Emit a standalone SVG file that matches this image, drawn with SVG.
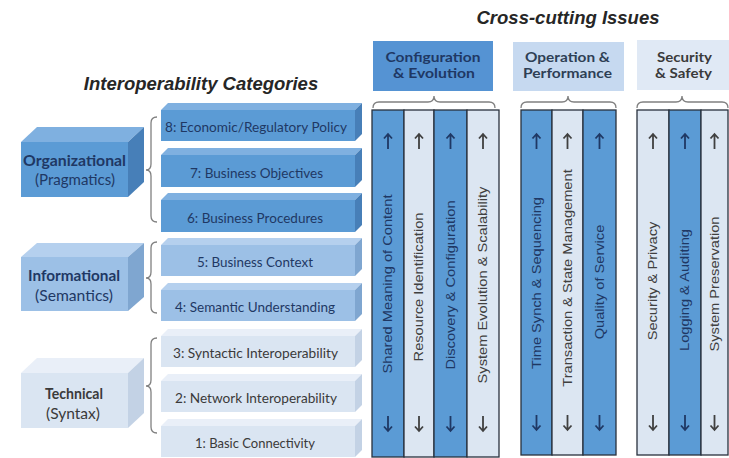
<svg xmlns="http://www.w3.org/2000/svg" width="729" height="458" viewBox="0 0 729 458">
<style>
.title{font-family:"Liberation Sans",Arial,sans-serif;font-weight:bold;font-style:italic;font-size:18.5px;fill:#262626;text-anchor:middle}
.hd{font-family:Lato,"Liberation Sans",sans-serif;font-weight:bold;font-size:14px;text-anchor:middle}
.lt{font-family:Lato,"Liberation Sans",sans-serif;font-size:13.5px;text-anchor:middle;dominant-baseline:central}
.cat{font-family:Lato,"Liberation Sans",sans-serif;font-size:15px;text-anchor:middle;dominant-baseline:central}
.cat.b{font-weight:bold}
.ct{font-family:"Liberation Sans",Arial,sans-serif;font-size:12px;text-anchor:middle;dominant-baseline:central}
.dk .f{fill:#5b9bd5}.dk .t{fill:#7fb0e0}.dk .s{fill:#477fb8}
.md .f{fill:#9cc0e6}.md .t{fill:#b5d0ee}.md .s{fill:#7fa6d0}
.lg .f{fill:#dae5f2}.lg .t{fill:#e9eff8}.lg .s{fill:#c3d2e5}
.dk text{fill:#1f3864}.md text{fill:#1f3864}.lg text{fill:#3a3a3a}
.brace{fill:none;stroke:#808080;stroke-width:1.3}
.col{stroke:#28313d;stroke-width:1.3}
.cd{fill:#5b9bd5}.cl{fill:#dce6f2}
.tdk{fill:#1f3864}.tlt{fill:#404040}
.adk{stroke:#1f3864}.alt{stroke:#404040}
.arr{fill:none;stroke-width:1.8}
</style>
<defs>
<path id="up" d="M0,8 V-7 M-4,-2.5 L0,-7 L4,-2.5"/>
<path id="dn" d="M0,-8 V7 M-4,2.5 L0,7 L4,2.5"/>
</defs>
<rect width="729" height="458" fill="#ffffff"/>

<text class="title" x="568" y="24">Cross-cutting Issues</text>
<text class="title" x="201" y="90">Interoperability Categories</text>

<!-- Category blocks -->
<g id="cat-organizational" class="dk">
<polygon class="t" points="21,142 37,127 144,127 128,142"/>
<polygon class="s" points="128,142 144,127 144,182 128,197"/>
<rect class="f" x="21" y="142" width="107" height="55"/>
<text class="cat b" x="74.5" y="160" textLength="103" lengthAdjust="spacingAndGlyphs">Organizational</text>
<text class="cat" x="75" y="179" textLength="80" lengthAdjust="spacingAndGlyphs">(Pragmatics)</text>
</g>
<g id="cat-informational" class="md">
<polygon class="t" points="21,257 37,243 144,243 128,257"/>
<polygon class="s" points="128,257 144,243 144,297 128,311"/>
<rect class="f" x="21" y="257" width="107" height="54"/>
<text class="cat b" x="74" y="275" textLength="92" lengthAdjust="spacingAndGlyphs">Informational</text>
<text class="cat" x="74" y="295" textLength="78" lengthAdjust="spacingAndGlyphs">(Semantics)</text>
</g>
<g id="cat-technical" class="lg">
<polygon class="t" points="21,373 37,358 144,358 128,373"/>
<polygon class="s" points="128,373 144,358 144,413 128,428"/>
<rect class="f" x="21" y="373" width="107" height="55"/>
<text class="cat b" x="74" y="393" textLength="58" lengthAdjust="spacingAndGlyphs">Technical</text>
<text class="cat" x="73" y="413" textLength="54" lengthAdjust="spacingAndGlyphs">(Syntax)</text>
</g>

<!-- Layer blocks -->
<g id="layer-8" class="dk">
<polygon class="t" points="161,110 168,103 362,103 355,110"/>
<polygon class="s" points="355,110 362,103 362,134 355,141"/>
<rect class="f" x="161" y="110" width="194" height="31"/>
<text class="lt" x="256" y="127" textLength="182" lengthAdjust="spacingAndGlyphs">8: Economic/Regulatory Policy</text>
</g>
<g id="layer-7" class="dk">
<polygon class="t" points="161,155 168,148 362,148 355,155"/>
<polygon class="s" points="355,155 362,148 362,180 355,187"/>
<rect class="f" x="161" y="155" width="194" height="32"/>
<text class="lt" x="256.5" y="172.5" textLength="133" lengthAdjust="spacingAndGlyphs">7: Business Objectives</text>
</g>
<g id="layer-6" class="dk">
<polygon class="t" points="161,200 168,193 362,193 355,200"/>
<polygon class="s" points="355,200 362,193 362,225 355,232"/>
<rect class="f" x="161" y="200" width="194" height="32"/>
<text class="lt" x="255" y="217.5" textLength="136" lengthAdjust="spacingAndGlyphs">6: Business Procedures</text>
</g>
<g id="layer-5" class="md">
<polygon class="t" points="161,245 168,238 362,238 355,245"/>
<polygon class="s" points="355,245 362,238 362,269 355,276"/>
<rect class="f" x="161" y="245" width="194" height="31"/>
<text class="lt" x="255" y="262" textLength="116" lengthAdjust="spacingAndGlyphs">5: Business Context</text>
</g>
<g id="layer-4" class="md">
<polygon class="t" points="161,290 168,283 362,283 355,290"/>
<polygon class="s" points="355,290 362,283 362,314 355,321"/>
<rect class="f" x="161" y="290" width="194" height="31"/>
<text class="lt" x="255" y="307" textLength="160" lengthAdjust="spacingAndGlyphs">4: Semantic Understanding</text>
</g>
<g id="layer-3" class="lg">
<polygon class="t" points="161,336 168,329 362,329 355,336"/>
<polygon class="s" points="355,336 362,329 362,360 355,367"/>
<rect class="f" x="161" y="336" width="194" height="31"/>
<text class="lt" x="255.5" y="353" textLength="165" lengthAdjust="spacingAndGlyphs">3: Syntactic Interoperability</text>
</g>
<g id="layer-2" class="lg">
<polygon class="t" points="161,381 168,374 362,374 355,381"/>
<polygon class="s" points="355,381 362,374 362,405 355,412"/>
<rect class="f" x="161" y="381" width="194" height="31"/>
<text class="lt" x="256" y="398" textLength="162" lengthAdjust="spacingAndGlyphs">2: Network Interoperability</text>
</g>
<g id="layer-1" class="lg">
<polygon class="t" points="161,426 168,419 362,419 355,426"/>
<polygon class="s" points="355,426 362,419 362,450 355,457"/>
<rect class="f" x="161" y="426" width="194" height="31"/>
<text class="lt" x="255" y="443" textLength="120" lengthAdjust="spacingAndGlyphs">1: Basic Connectivity</text>
</g>

<!-- Header boxes -->
<g id="hdr-config">
<rect x="373" y="41" width="120" height="50" fill="#5593d3"/>
<text class="hd" x="433" y="62" fill="#1f3864" textLength="95" lengthAdjust="spacingAndGlyphs">Configuration</text>
<text class="hd" x="434" y="77.5" fill="#1f3864" textLength="82" lengthAdjust="spacingAndGlyphs">&amp; Evolution</text>
</g>
<g id="hdr-operation">
<rect x="513" y="42" width="111" height="49" fill="#c6d9f0"/>
<text class="hd" x="567.5" y="62" fill="#2e3f55" textLength="85" lengthAdjust="spacingAndGlyphs">Operation &amp;</text>
<text class="hd" x="567.5" y="77.5" fill="#2e3f55" textLength="89" lengthAdjust="spacingAndGlyphs">Performance</text>
</g>
<g id="hdr-security">
<rect x="637" y="40" width="92" height="50" fill="#e0e9f5"/>
<text class="hd" x="684.5" y="62" fill="#3a3a3a" textLength="55" lengthAdjust="spacingAndGlyphs">Security</text>
<text class="hd" x="683.5" y="77.5" fill="#3a3a3a" textLength="57" lengthAdjust="spacingAndGlyphs">&amp; Safety</text>
</g>

<!-- Columns -->
<g id="col-shared-meaning">
<rect class="col cd" x="372" y="110" width="32" height="347"/>
<text class="ct tdk" transform="translate(388,284) rotate(-90) scale(1.22,1)">Shared Meaning of Content</text>
</g>
<g id="col-resource-id">
<rect class="col cl" x="404" y="110" width="30" height="347"/>
<text class="ct tlt" transform="translate(419,287) rotate(-90) scale(1.22,1)">Resource Identification</text>
</g>
<g id="col-discovery">
<rect class="col cd" x="434" y="110" width="33" height="347"/>
<text class="ct tdk" transform="translate(450.5,285) rotate(-90) scale(1.22,1)">Discovery &amp; Configuration</text>
</g>
<g id="col-evolution">
<rect class="col cl" x="467" y="110" width="32" height="347"/>
<text class="ct tlt" transform="translate(483,285) rotate(-90) scale(1.22,1)">System Evolution &amp; Scalability</text>
</g>
<g id="col-time-synch">
<rect class="col cd" x="521" y="110" width="31" height="345"/>
<text class="ct tdk" transform="translate(536.5,283) rotate(-90) scale(1.22,1)">Time Synch &amp; Sequencing</text>
</g>
<g id="col-transaction">
<rect class="col cl" x="552" y="110" width="31" height="345"/>
<text class="ct tlt" transform="translate(567.5,278) rotate(-90) scale(1.22,1)">Transaction &amp; State Management</text>
</g>
<g id="col-qos">
<rect class="col cd" x="583" y="110" width="33" height="345"/>
<text class="ct tdk" transform="translate(599.5,282) rotate(-90) scale(1.22,1)">Quality of Service</text>
</g>
<g id="col-security-privacy">
<rect class="col cl" x="637" y="110" width="32" height="345"/>
<text class="ct tlt" transform="translate(653,281) rotate(-90) scale(1.22,1)">Security &amp; Privacy</text>
</g>
<g id="col-logging">
<rect class="col cd" x="669" y="110" width="32" height="345"/>
<text class="ct tdk" transform="translate(685,290) rotate(-90) scale(1.22,1)">Logging &amp; Auditing</text>
</g>
<g id="col-preservation">
<rect class="col cl" x="701" y="110" width="27" height="345"/>
<text class="ct tlt" transform="translate(714.5,284) rotate(-90) scale(1.22,1)">System Preservation</text>
</g>

<!-- Arrows -->
<g id="arrows" class="arr">
<use href="#up" x="388" y="141" class="adk"/><use href="#dn" x="388" y="424" class="adk"/>
<use href="#up" x="419" y="141" class="alt"/><use href="#dn" x="419" y="424" class="alt"/>
<use href="#up" x="450.5" y="141" class="adk"/><use href="#dn" x="450.5" y="424" class="adk"/>
<use href="#up" x="483" y="141" class="alt"/><use href="#dn" x="483" y="424" class="alt"/>
<use href="#up" x="536.5" y="141" class="adk"/><use href="#dn" x="536.5" y="423" class="adk"/>
<use href="#up" x="567.5" y="141" class="alt"/><use href="#dn" x="567.5" y="423" class="alt"/>
<use href="#up" x="599.5" y="141" class="adk"/><use href="#dn" x="599.5" y="423" class="adk"/>
<use href="#up" x="653" y="141" class="alt"/><use href="#dn" x="653" y="423" class="alt"/>
<use href="#up" x="685" y="141" class="adk"/><use href="#dn" x="685" y="423" class="adk"/>
<use href="#up" x="714.5" y="141" class="alt"/><use href="#dn" x="714.5" y="423" class="alt"/>
</g>

<!-- Braces (connectors) -->
<g id="connectors" class="brace">
<path d="M157,117 Q151,117 151,123 L151,164 Q151,170 146,170 Q151,170 151,176 L151,216 Q151,222 157,222"/>
<path d="M157,242 Q151,242 151,248 L151,272 Q151,278 146,278 Q151,278 151,284 L151,307 Q151,313 157,313"/>
<path d="M157,338 Q151,338 151,344 L151,380 Q151,386 146,386 Q151,386 151,392 L151,427 Q151,433 157,433"/>
<path d="M373,108 Q373,102 379,102 L428,102 Q434,102 434,96 Q434,102 440,102 L489,102 Q495,102 495,108"/>
<path d="M521,108 Q521,102 527,102 L562,102 Q568,102 568,96 Q568,102 574,102 L610,102 Q616,102 616,108"/>
<path d="M637,108 Q637,102 643,102 L676,102 Q682,102 682,96 Q682,102 688,102 L722,102 Q728,102 728,108"/>
</g>
</svg>
